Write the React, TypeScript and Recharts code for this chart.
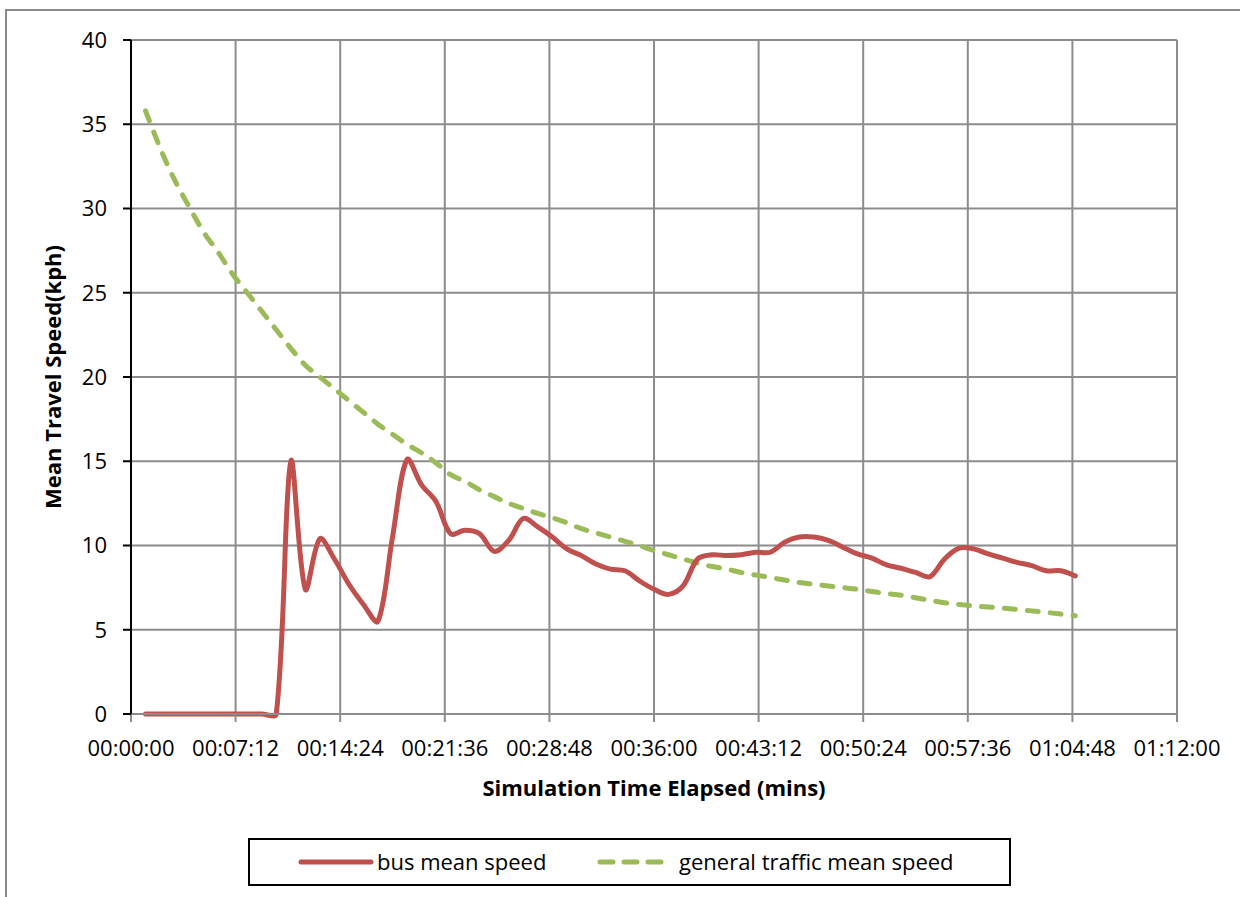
import React from "react";
import { LineChart, Line, XAxis, YAxis, CartesianGrid, Label } from "recharts";

// minutes since start of simulation
const minutes = [
  1, 2, 3, 4, 5, 6, 7, 8, 9, 10, 11, 12, 13, 14, 15, 16, 17, 18, 19, 20,
  21, 22, 23, 24, 25, 26, 27, 28, 29, 30, 31, 32, 33, 34, 35, 36, 37, 38, 39, 40,
  41, 42, 43, 44, 45, 46, 47, 48, 49, 50, 51, 52, 53, 54, 55, 56, 57, 58, 59, 60,
  61, 62, 63, 64, 65,
];

const busSpeed = [
  0, 0, 0, 0, 0, 0, 0, 0, 0, 0, 15.0, 7.4, 10.4, 9.2, 7.7, 6.5, 5.5, 10.5, 15.1, 13.6,
  12.6, 10.7, 10.9, 10.7, 9.65, 10.3, 11.6, 11.1, 10.5, 9.8, 9.4, 8.9, 8.6, 8.5, 7.9, 7.4, 7.1, 7.6, 9.2, 9.45,
  9.4, 9.45, 9.6, 9.6, 10.2, 10.5, 10.5, 10.3, 9.9, 9.5, 9.25, 8.85, 8.65, 8.4, 8.15, 9.2, 9.85, 9.8, 9.5, 9.25,
  9.0, 8.8, 8.5, 8.5, 8.2,
];

const trafficSpeed = [
  35.8, 33.6, 31.7, 30.1, 28.6, 27.4, 26.1, 25.0, 23.9, 22.8, 21.7, 20.7, 20.0, 19.3, 18.6, 17.9, 17.2, 16.6, 16.0, 15.5,
  14.9, 14.2, 13.8, 13.3, 12.9, 12.5, 12.2, 11.9, 11.65, 11.35, 11.0, 10.75, 10.5, 10.25, 10.0, 9.7, 9.45, 9.2, 8.95, 8.75,
  8.6, 8.4, 8.25, 8.1, 7.95, 7.8, 7.7, 7.6, 7.5, 7.4, 7.27, 7.15, 7.05, 6.9, 6.75, 6.6, 6.5, 6.42, 6.35, 6.28,
  6.2, 6.12, 6.03, 5.93, 5.83,
];

// x ticks in seconds (every 00:07:12)
const xTicks = [0, 432, 864, 1296, 1728, 2160, 2592, 3024, 3456, 3888, 4320];
const yTicks = [0, 5, 10, 15, 20, 25, 30, 35, 40];

const seriesNames = ["bus mean speed", "general traffic mean speed"];
const xTitle = "Simulation Time Elapsed (mins)";
const yTitle = "Mean Travel Speed(kph)";

const data = minutes.map((m, i) => ({
  t: m * 60,
  bus: busSpeed[i],
  traffic: trafficSpeed[i],
}));

const pad = (n: number) => String(n).padStart(2, "0");
const fmtTime = (s: number) => {
  const h = Math.floor(s / 3600);
  const mi = Math.floor((s % 3600) / 60);
  const se = Math.round(s % 60);
  return `${pad(h)}:${pad(mi)}:${pad(se)}`;
};

// Excel-like smoothed line: chord-length weighted Bezier control points
const smoothCurve = (context: any) => {
  let pts: [number, number][] = [];
  const dist = (a: [number, number], b: [number, number]) =>
    Math.hypot(b[0] - a[0], b[1] - a[1]);
  return {
    areaStart() {},
    areaEnd() {},
    lineStart() {
      pts = [];
    },
    point(x: number, y: number) {
      pts.push([+x, +y]);
    },
    lineEnd() {
      const n = pts.length;
      if (!n) return;
      context.moveTo(pts[0][0], pts[0][1]);
      for (let i = 0; i < n - 1; i++) {
        const p0 = pts[i - 1] || pts[i];
        const p1 = pts[i];
        const p2 = pts[i + 1];
        const p3 = pts[i + 2] || p2;
        const d01 = dist(p0, p1);
        const d12 = dist(p1, p2);
        const d23 = dist(p2, p3);
        const f1 = d01 + d12 > 0 ? d12 / (d01 + d12) / 3 : 0;
        const f2 = d12 + d23 > 0 ? d12 / (d12 + d23) / 3 : 0;
        const a1 = i === 0 ? 1 / 3 : f1 * 1;
        const a2 = i === n - 2 ? 1 / 3 : f2 * 1;
        context.bezierCurveTo(
          p1[0] + (p2[0] - p0[0]) * (i === 0 ? 1 / 6 : a1),
          p1[1] + (p2[1] - p0[1]) * (i === 0 ? 1 / 6 : a1),
          p2[0] - (p3[0] - p1[0]) * (i === n - 2 ? 1 / 6 : a2),
          p2[1] - (p3[1] - p1[1]) * (i === n - 2 ? 1 / 6 : a2),
          p2[0],
          p2[1]
        );
      }
    },
  };
};

const FONT = "'Open Sans', sans-serif";
const RED = "#C0504D";
const GREEN = "#9BBB59";
const GRID = "#8c8c8c";

export default function App() {
  return (
    <div
      style={{
        position: "absolute",
        left: 0,
        top: 0,
        width: 1240,
        height: 897,
        overflow: "hidden",
        background: "#fff",
        fontFamily: FONT,
      }}
    >
      <div
        style={{
          position: "absolute",
          left: 5,
          top: 9,
          width: 1240,
          height: 900,
          borderTop: "2px solid #8a8a8a",
          borderLeft: "2px solid #8a8a8a",
          boxSizing: "border-box",
        }}
      />
      <div style={{ position: "absolute", left: 0, top: 0 }}>
        <LineChart
          width={1240}
          height={897}
          data={data}
          margin={{ top: 40, right: 63, left: 0, bottom: 123 }}
        >
          <CartesianGrid stroke={GRID} strokeWidth={2} />
          <XAxis
            dataKey="t"
            type="number"
            domain={[0, 4320]}
            ticks={xTicks}
            tickFormatter={fmtTime}
            height={60}
            stroke={GRID}
            strokeWidth={2}
            tickSize={8}
            tickMargin={18}
            tick={{ fill: "#000", fontSize: 22, fontFamily: FONT }}
            interval={0}
          >
            <Label
              content={(props: any) => {
                const vb = props.viewBox;
                return (
                  <text
                    x={vb.x + vb.width / 2}
                    y={vb.y + 82}
                    textAnchor="middle"
                    fontFamily={FONT}
                    fontSize={22}
                    fontWeight="bold"
                    fill="#000"
                  >
                    {xTitle}
                  </text>
                );
              }}
            />
          </XAxis>
          <YAxis
            type="number"
            domain={[0, 40]}
            ticks={yTicks}
            width={131}
            stroke="#000"
            strokeWidth={2}
            tickSize={8}
            tickMargin={16}
            tick={{ fill: "#000", fontSize: 22, fontFamily: FONT }}
            interval={0}
          >
            <Label
              content={(props: any) => {
                const vb = props.viewBox;
                const x = vb.x + 61;
                const y = vb.y + vb.height / 2;
                return (
                  <text
                    x={x}
                    y={y}
                    transform={`rotate(-90, ${x}, ${y})`}
                    textAnchor="middle"
                    fontFamily={FONT}
                    fontSize={22}
                    fontWeight="bold"
                    fill="#000"
                  >
                    {yTitle}
                  </text>
                );
              }}
            />
          </YAxis>
          <Line
            dataKey="traffic"
            name={seriesNames[1]}
            type={smoothCurve as any}
            stroke={GREEN}
            strokeWidth={5}
            strokeDasharray="11 12"
            strokeLinecap="round"
            dot={false}
            activeDot={false}
            isAnimationActive={false}
          />
          <Line
            dataKey="bus"
            name={seriesNames[0]}
            type={smoothCurve as any}
            stroke={RED}
            strokeWidth={5}
            strokeLinecap="round"
            dot={false}
            activeDot={false}
            isAnimationActive={false}
          />
        </LineChart>
      </div>
      <div
        style={{
          position: "absolute",
          left: 248,
          top: 838,
          width: 763,
          height: 48,
          border: "2px solid #000",
          boxSizing: "border-box",
        }}
      >
        <svg width={763} height={48} style={{ position: "absolute", left: -2, top: -2 }}>
          <line x1={53} y1={24} x2={123} y2={24} stroke={RED} strokeWidth={5} strokeLinecap="round" />
          <line
            x1={352}
            y1={24}
            x2={417}
            y2={24}
            stroke={GREEN}
            strokeWidth={5}
            strokeLinecap="round"
            strokeDasharray="13 11"
          />
          <text x={129} y={32} fontFamily={FONT} fontSize={22} fill="#000">
            {seriesNames[0]}
          </text>
          <text x={431} y={32} fontFamily={FONT} fontSize={22} fill="#000">
            {seriesNames[1]}
          </text>
        </svg>
      </div>
    </div>
  );
}
